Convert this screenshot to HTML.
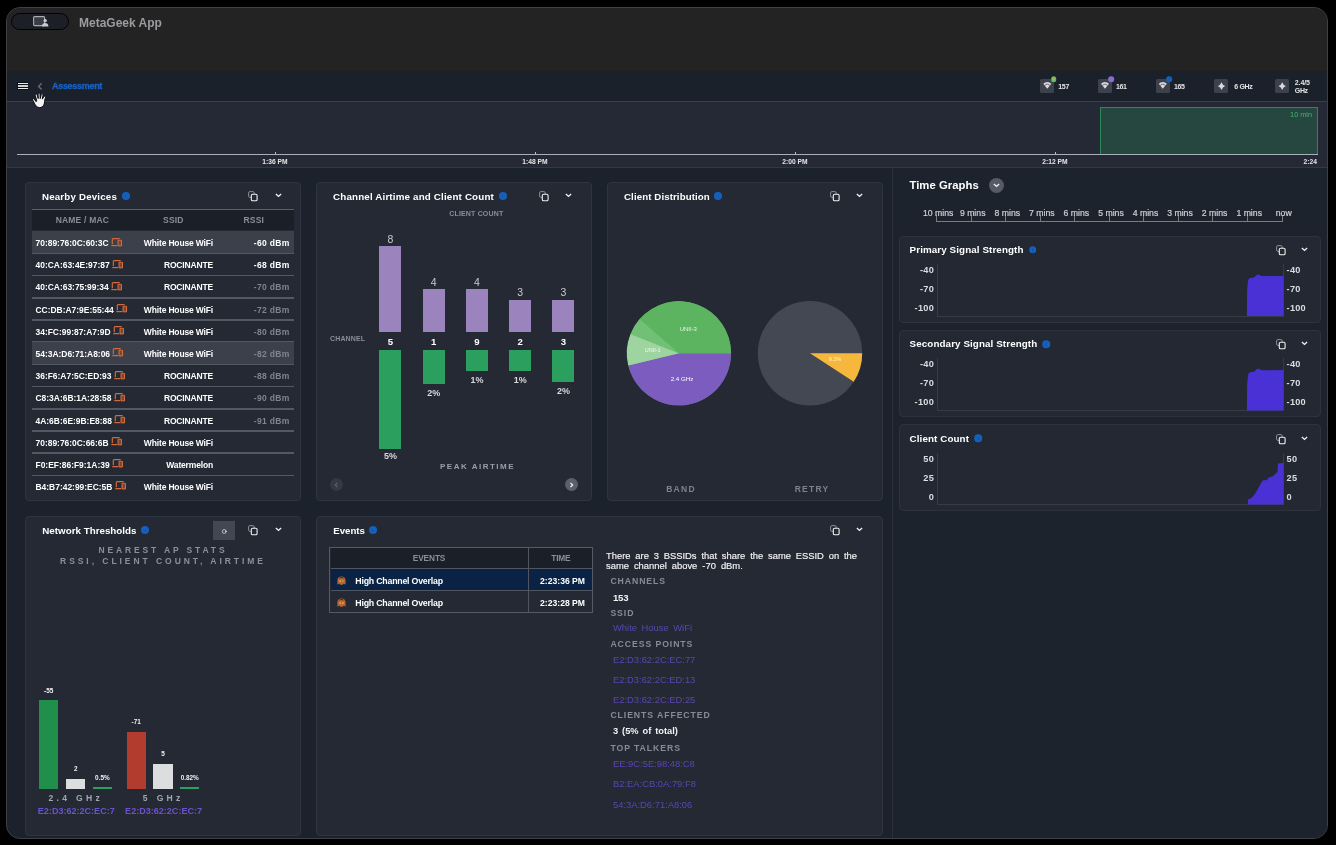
<!DOCTYPE html>
<html>
<head>
<meta charset="utf-8">
<title>MetaGeek App</title>
<style>
*{box-sizing:border-box;margin:0;padding:0}
html,body{width:1336px;height:845px;overflow:hidden;background:#000}
body{position:relative;font-family:"Liberation Sans",sans-serif;color:#fff;-webkit-font-smoothing:antialiased}
.abs{position:absolute}
#win{position:absolute;left:6px;top:7px;width:1322px;height:832px;background:#1c222c;border-radius:14px;overflow:hidden;border:1px solid #3e4046}
/* everything inside #win positioned in page coords via wrapper shifted by -7,-8 (border 1px) */
#pg{position:absolute;left:-7px;top:-8px;width:1336px;height:845px;will-change:transform}
#titlebar{left:0;top:0;width:1336px;height:71px;background:#232323}
#navbar{left:0;top:71px;width:1336px;height:30px;background:#1b212b}
#timeline{left:0;top:101px;width:1336px;height:67px;background:#242935;border-top:1px solid #3a3f49;border-bottom:1px solid #333843}
.t{position:absolute;white-space:nowrap;line-height:1}
.c{transform:translate(-50%,-50%)}
.l{transform:translate(0,-50%)}
.r{transform:translate(-100%,-50%)}
.b{font-weight:bold}
.card{position:absolute;background:#242933;border:1px solid #2f3540;border-radius:4px}
.ttl{font-weight:bold;font-size:10.5px;color:#fff}
.dot{position:absolute;width:8px;height:8px;border-radius:50%;background:#1560bd;transform:translate(-50%,-50%)}
.cdot{position:absolute;border-radius:50%;transform:translate(-50%,-50%)}
.dot::after{content:"";position:absolute;left:50%;top:50%;width:1px;height:3.2px;margin:-1.3px 0 0 -0.5px;background:#1254a8}
.lbl{font-weight:bold;color:#8a8e96}
.rect{position:absolute}
</style>
</head>
<body>
<div id="win"><div id="pg">

<!-- ===== TITLE BAR ===== -->
<div id="titlebar" class="abs"></div>
<div class="abs" style="left:11px;top:13px;width:58px;height:17px;border-radius:9px;background:#1c1f26;border:1.5px solid #020202"></div>
<svg class="abs" style="left:33px;top:16px" width="16" height="11" viewBox="0 0 16 11"><rect x="0.6" y="0.6" width="11" height="9" rx="1" fill="#3a3d44" stroke="#a9abb0" stroke-width="1.1"/><circle cx="12.2" cy="4.6" r="1.7" fill="#c9cbd0"/><path d="M9 10.4c0-2.2 1.4-3.3 3.2-3.3s3.2 1.1 3.2 3.3z" fill="#c9cbd0"/></svg>
<div class="t l b" style="left:79px;top:22.5px;font-size:12px;color:#9b9ca0">MetaGeek App</div>

<!-- ===== NAV BAR ===== -->
<div id="navbar" class="abs"></div>
<div id="timeline" class="abs"></div>
<!-- hamburger -->
<div class="rect" style="left:17.2px;top:81.9px;width:11.2px;height:8.4px;background:#0d1016;border-radius:1px"></div><div class="rect" style="left:17.8px;top:82.6px;width:10.2px;height:1.6px;background:#e9e9ea"></div>
<div class="rect" style="left:17.8px;top:85.2px;width:10.2px;height:1.6px;background:#cfd0d3"></div>
<div class="rect" style="left:17.8px;top:87.9px;width:10.2px;height:1.6px;background:#e9e9ea"></div>
<svg class="abs" style="left:37px;top:82px" width="6" height="9" viewBox="0 0 6 9"><path d="M4.6 1.2L1.6 4.4L4.6 7.6" fill="none" stroke="#646973" stroke-width="1.45"/></svg>
<div class="t l b" style="left:52px;top:86.3px;font-size:9px;letter-spacing:-0.3px;color:#1862c4;-webkit-text-stroke:0.3px #1862c4">Assessment</div>
<!-- hand cursor -->
<svg class="abs" style="left:32.2px;top:91.6px" width="15" height="17" viewBox="0 0 15 17"><path d="M4.7 8.6L3.2 3.2C2.9 1.9 4.7 1.4 5.1 2.7L6.2 6.6L6.1 1.9C6.1 .6 8 .6 8 1.9L8.2 6.6L9.2 2.6C9.5 1.3 11.3 1.7 11 3L10.3 7.1L11.8 4.7C12.5 3.6 14 4.4 13.5 5.6L12.6 8.6C12.7 11.8 11.5 15.6 7.6 15.6C4.9 15.6 3.5 13.6 2.3 11.1L.7 8.1C.1 6.9 1.6 6.2 2.3 7.2L4.1 9.7z" fill="#f1f2f4" stroke="#0d0d0f" stroke-width="1" stroke-linejoin="round"/></svg>
<!-- band chips -->
<div class="rect" style="left:1040px;top:78.6px;width:14.3px;height:14.5px;border-radius:1.5px;background:#3d414c"></div>
<div class="rect" style="left:1097.7px;top:78.6px;width:14.3px;height:14.5px;border-radius:1.5px;background:#3d414c"></div>
<div class="rect" style="left:1155.5px;top:78.6px;width:14.3px;height:14.5px;border-radius:1.5px;background:#3d414c"></div>
<div class="rect" style="left:1214px;top:78.6px;width:14.3px;height:14.5px;border-radius:1.5px;background:#3d414c"></div>
<div class="rect" style="left:1274.7px;top:78.6px;width:14.3px;height:14.5px;border-radius:1.5px;background:#3d414c"></div>
<svg class="abs" style="left:1040px;top:78.5px" width="250" height="15" viewBox="0 0 250 15">
<defs><g id="wf"><path d="M-4-1.7A5.8 5.8 0 0 1 4-1.7L0 3.3z" fill="#d9dade"/><path d="M-2.6-0.1A3.7 3.7 0 0 1 2.6-0.1" fill="none" stroke="#3d414c" stroke-width="0.7"/></g>
<path id="st" d="M0-3.9Q1-1 3.7 0Q1 1 0 3.9Q-1 1-3.7 0Q-1-1 0-3.9z" fill="#d9dade"/></defs>
<use href="#wf" x="7.3" y="6.4"/><use href="#wf" x="65" y="6.4"/><use href="#wf" x="122.8" y="6.4"/>
<use href="#st" x="181.5" y="7.1"/><use href="#st" x="242.2" y="7.1"/>
</svg>
<div class="cdot" style="left:1053.6px;top:79.4px;width:5.6px;height:5.6px;background:#52c26a"></div><div class="cdot" style="left:1053.6px;top:79.4px;width:2.8px;height:2.8px;background:#e6a332"></div>
<div class="cdot" style="left:1111.2px;top:79.2px;width:5.6px;height:5.6px;background:#876bd6"></div>
<div class="cdot" style="left:1169px;top:79.2px;width:5.6px;height:5.6px;background:#1560bd"></div>
<div class="t l b" style="left:1058.3px;top:85.6px;font-size:7px;letter-spacing:-0.35px;color:#e4e4e7">157</div>
<div class="t l b" style="left:1116px;top:85.6px;font-size:7px;letter-spacing:-0.35px;color:#e4e4e7">161</div>
<div class="t l b" style="left:1174px;top:85.6px;font-size:7px;letter-spacing:-0.35px;color:#e4e4e7">165</div>
<div class="t l b" style="left:1234.3px;top:85.6px;font-size:7px;letter-spacing:-0.35px;color:#e4e4e7">6 GHz</div>
<div class="t l b" style="left:1294.8px;top:81.8px;font-size:7px;letter-spacing:-0.1px;color:#e4e4e7">2.4/5</div>
<div class="t l b" style="left:1294.8px;top:89.8px;font-size:7px;letter-spacing:-0.35px;color:#e4e4e7">GHz</div>
<!-- timeline -->
<div class="rect" style="left:1100px;top:107px;width:217.5px;height:47px;background:#25473f;border:1px solid rgba(48,152,94,0.8);border-bottom:none"></div>
<div class="t r" style="left:1312px;top:115.2px;font-size:7.3px;color:#3fb56c">10 min</div>
<div class="rect" style="left:16.5px;top:153.5px;width:1301px;height:1.4px;background:#a9aeb7"></div>
<div class="rect" style="left:275px;top:152px;width:1px;height:2px;background:#b9bcc2"></div>
<div class="rect" style="left:535px;top:152px;width:1px;height:2px;background:#b9bcc2"></div>
<div class="rect" style="left:795px;top:152px;width:1px;height:2px;background:#b9bcc2"></div>
<div class="rect" style="left:1055px;top:152px;width:1px;height:2px;background:#b9bcc2"></div>
<div class="t c b" style="left:275px;top:161.9px;font-size:6.7px;color:#e6e6e8">1:36 PM</div>
<div class="t c b" style="left:535px;top:161.9px;font-size:6.7px;color:#e6e6e8">1:48 PM</div>
<div class="t c b" style="left:795px;top:161.9px;font-size:6.7px;color:#e6e6e8">2:00 PM</div>
<div class="t c b" style="left:1055px;top:161.9px;font-size:6.7px;color:#e6e6e8">2:12 PM</div>
<div class="t r b" style="left:1317px;top:161.9px;font-size:6.7px;color:#e6e6e8">2:24</div>

<svg width="0" height="0" style="position:absolute"><defs>
<g id="cpy"><rect x="0.6" y="0.6" width="5.6" height="5.8" rx="1.3" fill="none" stroke="#8b8f97" stroke-width="1"/><rect x="3.3" y="3.2" width="5.8" height="6.6" rx="1.3" fill="#242933" stroke="#f0f0f0" stroke-width="1.1"/></g>
<path id="chv" d="M0.9 0.9L3.5 3.4L6.1 0.9" fill="none" stroke="#f0f0f0" stroke-width="1.4"/>
<g id="dev"><path d="M1.4 7V1.7c0-.5.3-.8.8-.8h7M0.3 8.3h6.4" fill="none" stroke="#d36a3b" stroke-width="1.25"/><rect x="7.5" y="2.7" width="3.7" height="5.9" rx="0.7" fill="#7a4532" stroke="#d36a3b" stroke-width="1.2"/></g>
</defs></svg>
<!-- ===== NEARBY DEVICES ===== -->
<div class="card" style="left:25px;top:182px;width:276px;height:319px"></div>
<div class="t l ttl" style="left:42px;top:196.7px;font-size:9.7px;letter-spacing:0.2px">Nearby Devices</div>
<div class="dot" style="left:125.5px;top:196px"></div>
<svg class="abs" style="left:248.0px;top:190.9px" width="10" height="11" viewBox="0 0 10 11"><use href="#cpy"/></svg>
<svg class="abs" style="left:274.5px;top:192.9px" width="7" height="5" viewBox="0 0 7 5"><use href="#chv"/></svg>
<div class="rect" style="left:32px;top:208.9px;width:262px;height:21.6px;background:#1a1f28;border-top:1.2px solid #5a5f68"></div>
<div class="t c lbl" style="left:82.4px;top:220.2px;font-size:8.5px;letter-spacing:0.2px">NAME / MAC</div>
<div class="t c lbl" style="left:173.4px;top:220.2px;font-size:8.5px;letter-spacing:0.2px">SSID</div>
<div class="t c lbl" style="left:253.8px;top:220.2px;font-size:8.5px;letter-spacing:0.2px">RSSI</div>
<div class="rect" style="left:32px;top:231.0px;width:262px;height:22.2px;background:#3b404b"></div>
<div class="rect" style="left:32px;top:252.8px;width:262px;height:1.5px;background:#535862"></div>
<div class="t l b" style="left:35.5px;top:243.1px;font-size:8.45px;letter-spacing:0px">70:89:76:0C:60:3C<svg style="position:absolute;left:100%;margin-left:2.4px;top:-1.6px" width="11.3" height="9.4" viewBox="0 0 12 10"><use href="#dev"/></svg></div>
<div class="t r b" style="left:213px;top:243.1px;font-size:8.5px;letter-spacing:-0.16px">White House WiFi</div>
<div class="t r b" style="left:289.5px;top:243.1px;font-size:8.5px;letter-spacing:0.3px;color:#fff">-60 dBm</div>
<div class="rect" style="left:32px;top:274.9px;width:262px;height:1.5px;background:#535862"></div>
<div class="t l b" style="left:35.5px;top:265.3px;font-size:8.45px;letter-spacing:0px">40:CA:63:4E:97:87<svg style="position:absolute;left:100%;margin-left:2.4px;top:-1.6px" width="11.3" height="9.4" viewBox="0 0 12 10"><use href="#dev"/></svg></div>
<div class="t r b" style="left:213px;top:265.3px;font-size:8.5px;letter-spacing:-0.16px">ROCINANTE</div>
<div class="t r b" style="left:289.5px;top:265.3px;font-size:8.5px;letter-spacing:0.3px;color:#fff">-68 dBm</div>
<div class="rect" style="left:32px;top:297.1px;width:262px;height:1.5px;background:#535862"></div>
<div class="t l b" style="left:35.5px;top:287.4px;font-size:8.45px;letter-spacing:0px">40:CA:63:75:99:34<svg style="position:absolute;left:100%;margin-left:2.4px;top:-1.6px" width="11.3" height="9.4" viewBox="0 0 12 10"><use href="#dev"/></svg></div>
<div class="t r b" style="left:213px;top:287.4px;font-size:8.5px;letter-spacing:-0.16px">ROCINANTE</div>
<div class="t r b" style="left:289.5px;top:287.4px;font-size:8.5px;letter-spacing:0.3px;color:#80848d">-70 dBm</div>
<div class="rect" style="left:32px;top:319.3px;width:262px;height:1.5px;background:#535862"></div>
<div class="t l b" style="left:35.5px;top:309.6px;font-size:8.45px;letter-spacing:0px">CC:DB:A7:9E:55:44<svg style="position:absolute;left:100%;margin-left:2.4px;top:-1.6px" width="11.3" height="9.4" viewBox="0 0 12 10"><use href="#dev"/></svg></div>
<div class="t r b" style="left:213px;top:309.6px;font-size:8.5px;letter-spacing:-0.16px">White House WiFi</div>
<div class="t r b" style="left:289.5px;top:309.6px;font-size:8.5px;letter-spacing:0.3px;color:#80848d">-72 dBm</div>
<div class="rect" style="left:32px;top:341.4px;width:262px;height:1.5px;background:#535862"></div>
<div class="t l b" style="left:35.5px;top:331.8px;font-size:8.45px;letter-spacing:0px">34:FC:99:87:A7:9D<svg style="position:absolute;left:100%;margin-left:2.4px;top:-1.6px" width="11.3" height="9.4" viewBox="0 0 12 10"><use href="#dev"/></svg></div>
<div class="t r b" style="left:213px;top:331.8px;font-size:8.5px;letter-spacing:-0.16px">White House WiFi</div>
<div class="t r b" style="left:289.5px;top:331.8px;font-size:8.5px;letter-spacing:0.3px;color:#80848d">-80 dBm</div>
<div class="rect" style="left:32px;top:341.9px;width:262px;height:22.2px;background:#3b404b"></div>
<div class="rect" style="left:32px;top:363.6px;width:262px;height:1.5px;background:#535862"></div>
<div class="t l b" style="left:35.5px;top:353.9px;font-size:8.45px;letter-spacing:0px">54:3A:D6:71:A8:06<svg style="position:absolute;left:100%;margin-left:2.4px;top:-1.6px" width="11.3" height="9.4" viewBox="0 0 12 10"><use href="#dev"/></svg></div>
<div class="t r b" style="left:213px;top:353.9px;font-size:8.5px;letter-spacing:-0.16px">White House WiFi</div>
<div class="t r b" style="left:289.5px;top:353.9px;font-size:8.5px;letter-spacing:0.3px;color:#80848d">-82 dBm</div>
<div class="rect" style="left:32px;top:385.8px;width:262px;height:1.5px;background:#535862"></div>
<div class="t l b" style="left:35.5px;top:376.1px;font-size:8.45px;letter-spacing:0px">36:F6:A7:5C:ED:93<svg style="position:absolute;left:100%;margin-left:2.4px;top:-1.6px" width="11.3" height="9.4" viewBox="0 0 12 10"><use href="#dev"/></svg></div>
<div class="t r b" style="left:213px;top:376.1px;font-size:8.5px;letter-spacing:-0.16px">ROCINANTE</div>
<div class="t r b" style="left:289.5px;top:376.1px;font-size:8.5px;letter-spacing:0.3px;color:#80848d">-88 dBm</div>
<div class="rect" style="left:32px;top:408.0px;width:262px;height:1.5px;background:#535862"></div>
<div class="t l b" style="left:35.5px;top:398.3px;font-size:8.45px;letter-spacing:0px">C8:3A:6B:1A:28:58<svg style="position:absolute;left:100%;margin-left:2.4px;top:-1.6px" width="11.3" height="9.4" viewBox="0 0 12 10"><use href="#dev"/></svg></div>
<div class="t r b" style="left:213px;top:398.3px;font-size:8.5px;letter-spacing:-0.16px">ROCINANTE</div>
<div class="t r b" style="left:289.5px;top:398.3px;font-size:8.5px;letter-spacing:0.3px;color:#80848d">-90 dBm</div>
<div class="rect" style="left:32px;top:430.1px;width:262px;height:1.5px;background:#535862"></div>
<div class="t l b" style="left:35.5px;top:420.5px;font-size:8.45px;letter-spacing:0px">4A:6B:6E:9B:E8:88<svg style="position:absolute;left:100%;margin-left:2.4px;top:-1.6px" width="11.3" height="9.4" viewBox="0 0 12 10"><use href="#dev"/></svg></div>
<div class="t r b" style="left:213px;top:420.5px;font-size:8.5px;letter-spacing:-0.16px">ROCINANTE</div>
<div class="t r b" style="left:289.5px;top:420.5px;font-size:8.5px;letter-spacing:0.3px;color:#80848d">-91 dBm</div>
<div class="rect" style="left:32px;top:452.3px;width:262px;height:1.5px;background:#535862"></div>
<div class="t l b" style="left:35.5px;top:442.6px;font-size:8.45px;letter-spacing:0px">70:89:76:0C:66:6B<svg style="position:absolute;left:100%;margin-left:2.4px;top:-1.6px" width="11.3" height="9.4" viewBox="0 0 12 10"><use href="#dev"/></svg></div>
<div class="t r b" style="left:213px;top:442.6px;font-size:8.5px;letter-spacing:-0.16px">White House WiFi</div>
<div class="rect" style="left:32px;top:474.5px;width:262px;height:1.5px;background:#535862"></div>
<div class="t l b" style="left:35.5px;top:464.8px;font-size:8.45px;letter-spacing:0px">F0:EF:86:F9:1A:39<svg style="position:absolute;left:100%;margin-left:2.4px;top:-1.6px" width="11.3" height="9.4" viewBox="0 0 12 10"><use href="#dev"/></svg></div>
<div class="t r b" style="left:213px;top:464.8px;font-size:8.5px;letter-spacing:-0.16px">Watermelon</div>
<div class="t l b" style="left:35.5px;top:487.0px;font-size:8.45px;letter-spacing:0px">B4:B7:42:99:EC:5B<svg style="position:absolute;left:100%;margin-left:2.4px;top:-1.6px" width="11.3" height="9.4" viewBox="0 0 12 10"><use href="#dev"/></svg></div>
<div class="t r b" style="left:213px;top:487.0px;font-size:8.5px;letter-spacing:-0.16px">White House WiFi</div>
<!-- ===== CHANNEL AIRTIME ===== -->
<div class="card" style="left:316px;top:182px;width:276px;height:319px"></div>
<div class="t l ttl" style="left:333px;top:196.7px;font-size:9.8px;letter-spacing:0.16px">Channel Airtime and Client Count</div>
<div class="dot" style="left:502.5px;top:196px"></div>
<svg class="abs" style="left:539.0px;top:190.9px" width="10" height="11" viewBox="0 0 10 11"><use href="#cpy"/></svg>
<svg class="abs" style="left:565.2px;top:192.9px" width="7" height="5" viewBox="0 0 7 5"><use href="#chv"/></svg>
<div class="t c lbl" style="left:476.3px;top:213.4px;font-size:7px;letter-spacing:0.17px">CLIENT COUNT</div>
<div class="t l lbl" style="left:330px;top:337.7px;font-size:7px;letter-spacing:0.15px">CHANNEL</div>
<div class="rect" style="left:379.3px;top:246.3px;width:22.2px;height:85.5px;background:#9b83be"></div>
<div class="t c" style="left:390.4px;top:238.9px;font-size:10.5px;color:#c9cacd">8</div>
<div class="t c b" style="left:390.4px;top:341.6px;font-size:9.6px;color:#fff">5</div>
<div class="rect" style="left:379.3px;top:349.7px;width:22.2px;height:99.1px;background:#2b9f5e"></div>
<div class="t c b" style="left:390.4px;top:456.2px;font-size:9px;color:#d6d7da">5%</div>
<div class="rect" style="left:422.6px;top:289.3px;width:22.2px;height:42.5px;background:#9b83be"></div>
<div class="t c" style="left:433.7px;top:281.9px;font-size:10.5px;color:#c9cacd">4</div>
<div class="t c b" style="left:433.7px;top:341.6px;font-size:9.6px;color:#fff">1</div>
<div class="rect" style="left:422.6px;top:349.7px;width:22.2px;height:34.7px;background:#2b9f5e"></div>
<div class="t c b" style="left:433.7px;top:392.7px;font-size:9px;color:#d6d7da">2%</div>
<div class="rect" style="left:465.9px;top:289.3px;width:22.2px;height:42.5px;background:#9b83be"></div>
<div class="t c" style="left:477.0px;top:281.9px;font-size:10.5px;color:#c9cacd">4</div>
<div class="t c b" style="left:477.0px;top:341.6px;font-size:9.6px;color:#fff">9</div>
<div class="rect" style="left:465.9px;top:349.7px;width:22.2px;height:21.7px;background:#2b9f5e"></div>
<div class="t c b" style="left:477.0px;top:379.5px;font-size:9px;color:#d6d7da">1%</div>
<div class="rect" style="left:509.1px;top:299.8px;width:22.2px;height:32.0px;background:#9b83be"></div>
<div class="t c" style="left:520.2px;top:292.4px;font-size:10.5px;color:#c9cacd">3</div>
<div class="t c b" style="left:520.2px;top:341.6px;font-size:9.6px;color:#fff">2</div>
<div class="rect" style="left:509.1px;top:349.7px;width:22.2px;height:21.7px;background:#2b9f5e"></div>
<div class="t c b" style="left:520.2px;top:379.5px;font-size:9px;color:#d6d7da">1%</div>
<div class="rect" style="left:552.3px;top:299.8px;width:22.2px;height:32.0px;background:#9b83be"></div>
<div class="t c" style="left:563.4px;top:292.4px;font-size:10.5px;color:#c9cacd">3</div>
<div class="t c b" style="left:563.4px;top:341.6px;font-size:9.6px;color:#fff">3</div>
<div class="rect" style="left:552.3px;top:349.7px;width:22.2px;height:32.8px;background:#2b9f5e"></div>
<div class="t c b" style="left:563.4px;top:390.6px;font-size:9px;color:#d6d7da">2%</div>
<div class="t c lbl" style="left:477.5px;top:466.8px;font-size:8px;letter-spacing:1.5px;color:#9a9ea6">PEAK AIRTIME</div>
<div class="rect" style="left:330px;top:478px;width:13px;height:13px;border-radius:50%;background:#343944"></div>
<svg class="abs" style="left:334px;top:481.5px" width="5" height="6" viewBox="0 0 5 6"><path d="M3.4 0.9L1.3 3L3.4 5.1" fill="none" stroke="#5d626c" stroke-width="1.2"/></svg>
<div class="rect" style="left:564.8px;top:478px;width:13px;height:13px;border-radius:50%;background:#5b606b"></div>
<svg class="abs" style="left:569px;top:481.5px" width="5" height="6" viewBox="0 0 5 6"><path d="M1.5 0.9L3.6 3L1.5 5.1" fill="none" stroke="#f2f2f2" stroke-width="1.3"/></svg>
<!-- ===== CLIENT DISTRIBUTION ===== -->
<div class="card" style="left:607px;top:182px;width:276px;height:319px"></div>
<div class="t l ttl" style="left:624px;top:196.7px;font-size:9.7px;letter-spacing:0.1px">Client Distribution</div>
<div class="dot" style="left:718px;top:196px"></div>
<svg class="abs" style="left:830.0px;top:190.9px" width="10" height="11" viewBox="0 0 10 11"><use href="#cpy"/></svg>
<svg class="abs" style="left:856.2px;top:192.9px" width="7" height="5" viewBox="0 0 7 5"><use href="#chv"/></svg>
<svg class="abs" style="left:607px;top:282px" width="276" height="140" viewBox="607 282 276 140"><circle cx="679" cy="353.3" r="51.8" fill="#6ab96e"/><path d="M679 353.3L731.20 353.30A52.2 52.2 0 0 1 628.22 365.40z" fill="#7c5cbf"/><path d="M679 353.3L628.22 365.40A52.2 52.2 0 0 1 630.50 334.00z" fill="#9ed4a0"/><path d="M679 353.3L630.50 334.00A52.2 52.2 0 0 1 639.54 319.12z" fill="#72c076"/><path d="M679 353.3L639.54 319.12A52.2 52.2 0 0 1 731.20 353.30z" fill="#5cb460"/><circle cx="810" cy="353.3" r="52.2" fill="#444853"/><path d="M810 353.3L862.20 353.30A52.2 52.2 0 0 1 853.73 381.81z" fill="#f6b83c"/></svg>
<div class="t c" style="left:688.3px;top:328.5px;font-size:6px;color:#e6f3e6">UNII-3</div>
<div class="t c" style="left:652.7px;top:350.5px;font-size:5.5px;color:#f0f8f0">UNII-1</div>
<div class="t c" style="left:682px;top:379px;font-size:6.2px;color:#fff">2.4 GHz</div>
<div class="t c" style="left:835px;top:360px;font-size:5.5px;color:#fff3d8">9.2%</div>
<div class="t c lbl" style="left:681px;top:489px;font-size:8.5px;letter-spacing:1.25px;color:#7e828b">BAND</div>
<div class="t c lbl" style="left:812px;top:489px;font-size:8.5px;letter-spacing:1.25px;color:#7e828b">RETRY</div>
<!-- ===== TIME GRAPHS ===== -->
<div class="rect" style="left:892px;top:168px;width:1px;height:672px;background:#2a303a"></div>
<div class="rect" style="left:893px;top:168px;width:436px;height:672px;background:#1d232d"></div>
<div class="t l b" style="left:909.4px;top:185.8px;font-size:11.3px;letter-spacing:0.05px">Time Graphs</div>
<div class="rect" style="left:989px;top:177.5px;width:15px;height:15px;border-radius:50%;background:#555a64"></div>
<svg class="abs" style="left:993px;top:183.3px" width="7" height="5" viewBox="0 0 7 5"><use href="#chv"/></svg>
<div class="rect" style="left:936px;top:221px;width:346.5px;height:1px;background:#777c85"></div>
<div class="rect" style="left:936.0px;top:215.3px;width:1px;height:6.2px;background:#777c85"></div>
<div class="t c" style="left:938.2px;top:212.8px;font-size:8.7px;-webkit-text-stroke:0.2px #d0d1d4;color:#d0d1d4">10 mins</div>
<div class="rect" style="left:970.5px;top:215.3px;width:1px;height:6.2px;background:#777c85"></div>
<div class="t c" style="left:972.7px;top:212.8px;font-size:8.7px;-webkit-text-stroke:0.2px #d0d1d4;color:#d0d1d4">9 mins</div>
<div class="rect" style="left:1005.1px;top:215.3px;width:1px;height:6.2px;background:#777c85"></div>
<div class="t c" style="left:1007.3px;top:212.8px;font-size:8.7px;-webkit-text-stroke:0.2px #d0d1d4;color:#d0d1d4">8 mins</div>
<div class="rect" style="left:1039.7px;top:215.3px;width:1px;height:6.2px;background:#777c85"></div>
<div class="t c" style="left:1041.9px;top:212.8px;font-size:8.7px;-webkit-text-stroke:0.2px #d0d1d4;color:#d0d1d4">7 mins</div>
<div class="rect" style="left:1074.2px;top:215.3px;width:1px;height:6.2px;background:#777c85"></div>
<div class="t c" style="left:1076.4px;top:212.8px;font-size:8.7px;-webkit-text-stroke:0.2px #d0d1d4;color:#d0d1d4">6 mins</div>
<div class="rect" style="left:1108.8px;top:215.3px;width:1px;height:6.2px;background:#777c85"></div>
<div class="t c" style="left:1111.0px;top:212.8px;font-size:8.7px;-webkit-text-stroke:0.2px #d0d1d4;color:#d0d1d4">5 mins</div>
<div class="rect" style="left:1143.3px;top:215.3px;width:1px;height:6.2px;background:#777c85"></div>
<div class="t c" style="left:1145.5px;top:212.8px;font-size:8.7px;-webkit-text-stroke:0.2px #d0d1d4;color:#d0d1d4">4 mins</div>
<div class="rect" style="left:1177.8px;top:215.3px;width:1px;height:6.2px;background:#777c85"></div>
<div class="t c" style="left:1180.0px;top:212.8px;font-size:8.7px;-webkit-text-stroke:0.2px #d0d1d4;color:#d0d1d4">3 mins</div>
<div class="rect" style="left:1212.4px;top:215.3px;width:1px;height:6.2px;background:#777c85"></div>
<div class="t c" style="left:1214.6px;top:212.8px;font-size:8.7px;-webkit-text-stroke:0.2px #d0d1d4;color:#d0d1d4">2 mins</div>
<div class="rect" style="left:1247.0px;top:215.3px;width:1px;height:6.2px;background:#777c85"></div>
<div class="t c" style="left:1249.2px;top:212.8px;font-size:8.7px;-webkit-text-stroke:0.2px #d0d1d4;color:#d0d1d4">1 mins</div>
<div class="rect" style="left:1281.5px;top:215.3px;width:1px;height:6.2px;background:#777c85"></div>
<div class="t c" style="left:1283.7px;top:212.8px;font-size:8.7px;-webkit-text-stroke:0.2px #d0d1d4;color:#d0d1d4">now</div>
<div class="card" style="left:898.9px;top:235.70px;width:422.4px;height:87px;background:#232832;border-color:#2d333d"></div>
<div class="t l ttl" style="left:909.6px;top:250.10px;font-size:9.8px;letter-spacing:0.1px">Primary Signal Strength</div>
<div class="dot" style="left:1032.5px;top:249.90px;width:7.6px;height:7.6px"></div>
<svg class="abs" style="left:1275.5px;top:245.10px" width="10" height="11" viewBox="0 0 10 11"><use href="#cpy"/></svg>
<svg class="abs" style="left:1301px;top:247.20px" width="7" height="5" viewBox="0 0 7 5"><use href="#chv"/></svg>
<div class="rect" style="left:936.5px;top:264.00px;width:347.5px;height:52.60px;border:1px solid #363b46;border-top:none"></div>
<div class="t r b" style="left:934px;top:271.10px;font-size:9.2px;letter-spacing:0.25px;color:#dcdde0">-40</div>
<div class="t l b" style="left:1286.6px;top:271.10px;font-size:9.2px;letter-spacing:0.25px;color:#dcdde0">-40</div>
<div class="t r b" style="left:934px;top:290.05px;font-size:9.2px;letter-spacing:0.25px;color:#dcdde0">-70</div>
<div class="t l b" style="left:1286.6px;top:290.05px;font-size:9.2px;letter-spacing:0.25px;color:#dcdde0">-70</div>
<div class="t r b" style="left:934px;top:309.00px;font-size:9.2px;letter-spacing:0.25px;color:#dcdde0">-100</div>
<div class="t l b" style="left:1286.6px;top:309.00px;font-size:9.2px;letter-spacing:0.25px;color:#dcdde0">-100</div>
<svg class="abs" style="left:0;top:0;pointer-events:none" width="1336" height="845" viewBox="0 0 1336 845"><polygon points="1246.9,316.1 1247.1,290.2 1248.0,281.2 1249.0,278.5 1250.0,278.0 1254.0,277.6 1256.3,275.4 1258.3,274.3 1260.0,275.4 1262.0,276.1 1283.6,275.9 1283.6,316.1" fill="#4a31d6"/></svg>
<div class="card" style="left:898.9px;top:329.95px;width:422.4px;height:87px;background:#232832;border-color:#2d333d"></div>
<div class="t l ttl" style="left:909.6px;top:344.35px;font-size:9.8px;letter-spacing:0.1px">Secondary Signal Strength</div>
<div class="dot" style="left:1046px;top:344.15px;width:7.6px;height:7.6px"></div>
<svg class="abs" style="left:1275.5px;top:339.35px" width="10" height="11" viewBox="0 0 10 11"><use href="#cpy"/></svg>
<svg class="abs" style="left:1301px;top:341.45px" width="7" height="5" viewBox="0 0 7 5"><use href="#chv"/></svg>
<div class="rect" style="left:936.5px;top:358.25px;width:347.5px;height:52.60px;border:1px solid #363b46;border-top:none"></div>
<div class="t r b" style="left:934px;top:365.35px;font-size:9.2px;letter-spacing:0.25px;color:#dcdde0">-40</div>
<div class="t l b" style="left:1286.6px;top:365.35px;font-size:9.2px;letter-spacing:0.25px;color:#dcdde0">-40</div>
<div class="t r b" style="left:934px;top:384.30px;font-size:9.2px;letter-spacing:0.25px;color:#dcdde0">-70</div>
<div class="t l b" style="left:1286.6px;top:384.30px;font-size:9.2px;letter-spacing:0.25px;color:#dcdde0">-70</div>
<div class="t r b" style="left:934px;top:403.25px;font-size:9.2px;letter-spacing:0.25px;color:#dcdde0">-100</div>
<div class="t l b" style="left:1286.6px;top:403.25px;font-size:9.2px;letter-spacing:0.25px;color:#dcdde0">-100</div>
<svg class="abs" style="left:0;top:0;pointer-events:none" width="1336" height="845" viewBox="0 0 1336 845"><polygon points="1246.9,410.4 1247.1,384.4 1248.0,375.4 1249.0,372.8 1250.0,372.2 1254.0,371.8 1256.3,369.6 1258.3,368.6 1260.0,369.6 1262.0,370.3 1283.6,370.1 1283.6,410.4" fill="#4a31d6"/></svg>
<div class="card" style="left:898.9px;top:424.20px;width:422.4px;height:87px;background:#232832;border-color:#2d333d"></div>
<div class="t l ttl" style="left:909.6px;top:438.60px;font-size:9.8px;letter-spacing:0.1px">Client Count</div>
<div class="dot" style="left:978.3px;top:438.40px;width:7.6px;height:7.6px"></div>
<svg class="abs" style="left:1275.5px;top:433.60px" width="10" height="11" viewBox="0 0 10 11"><use href="#cpy"/></svg>
<svg class="abs" style="left:1301px;top:435.70px" width="7" height="5" viewBox="0 0 7 5"><use href="#chv"/></svg>
<div class="rect" style="left:936.5px;top:452.50px;width:347.5px;height:52.60px;border:1px solid #363b46;border-top:none"></div>
<div class="t r b" style="left:934px;top:459.60px;font-size:9.2px;letter-spacing:0.25px;color:#dcdde0">50</div>
<div class="t l b" style="left:1286.6px;top:459.60px;font-size:9.2px;letter-spacing:0.25px;color:#dcdde0">50</div>
<div class="t r b" style="left:934px;top:478.55px;font-size:9.2px;letter-spacing:0.25px;color:#dcdde0">25</div>
<div class="t l b" style="left:1286.6px;top:478.55px;font-size:9.2px;letter-spacing:0.25px;color:#dcdde0">25</div>
<div class="t r b" style="left:934px;top:497.50px;font-size:9.2px;letter-spacing:0.25px;color:#dcdde0">0</div>
<div class="t l b" style="left:1286.6px;top:497.50px;font-size:9.2px;letter-spacing:0.25px;color:#dcdde0">0</div>
<svg class="abs" style="left:0;top:0;pointer-events:none" width="1336" height="845" viewBox="0 0 1336 845"><polygon points="1247.9,504.6 1247.9,499.6 1251.4,498.0 1255.1,493.8 1262.6,480.5 1266.9,479.9 1268.4,477.8 1272.7,476.2 1277.5,471.9 1278.0,463.4 1283.6,462.9 1283.6,504.6" fill="#4a31d6"/></svg>
<!-- ===== NETWORK THRESHOLDS ===== -->
<div class="card" style="left:25px;top:516px;width:276px;height:320px"></div>
<div class="t l ttl" style="left:42.3px;top:530.5px;font-size:9.8px">Network Thresholds</div>
<div class="dot" style="left:145px;top:530.3px"></div>
<div class="rect" style="left:213px;top:520.5px;width:22.3px;height:19.5px;background:#424752"></div>
<svg class="abs" style="left:220.5px;top:527.5px" width="7" height="7" viewBox="0 0 7 7"><circle cx="3.2" cy="3.5" r="1.9" fill="none" stroke="#c9cbd0" stroke-width="0.9"/><path d="M4.2 2.3L6.2 3.5L4.2 4.7z" fill="#c9cbd0"/></svg>
<svg class="abs" style="left:248.3px;top:525.1px" width="10" height="11" viewBox="0 0 10 11"><use href="#cpy"/></svg>
<svg class="abs" style="left:274.5px;top:527.1px" width="7" height="5" viewBox="0 0 7 5"><use href="#chv"/></svg>
<div class="t c lbl" style="left:163px;top:549.5px;font-size:8.5px;letter-spacing:2.85px;color:#8d9099">NEAREST AP STATS</div>
<div class="t c lbl" style="left:163px;top:561.1px;font-size:8.5px;letter-spacing:2.95px;color:#8d9099">RSSI, CLIENT COUNT, AIRTIME</div>
<div class="rect" style="left:39.3px;top:699.8px;width:18.9px;height:89.5px;background:#1f8f4b"></div>
<div class="rect" style="left:66.1px;top:778.7px;width:19.2px;height:10.6px;background:#dcdddf"></div>
<div class="rect" style="left:93.2px;top:787px;width:18.8px;height:1.5px;background:#2b9f5e"></div>
<div class="rect" style="left:126.6px;top:731.8px;width:19.2px;height:57.5px;background:#b23c2e"></div>
<div class="rect" style="left:153.3px;top:764px;width:19.4px;height:25.3px;background:#dcdddf"></div>
<div class="rect" style="left:180.3px;top:787px;width:19.0px;height:1.5px;background:#2b9f5e"></div>
<div class="t c b" style="left:48.7px;top:690.6px;font-size:6.4px;color:#f0f0f2">-55</div>
<div class="t c b" style="left:75.7px;top:769.4px;font-size:6.4px;color:#f0f0f2">2</div>
<div class="t c b" style="left:102.4px;top:777.9px;font-size:6.4px;color:#f0f0f2">0.5%</div>
<div class="t c b" style="left:136.2px;top:722.1px;font-size:6.4px;color:#f0f0f2">-71</div>
<div class="t c b" style="left:163px;top:754.2px;font-size:6.4px;color:#f0f0f2">5</div>
<div class="t c b" style="left:189.7px;top:777.5px;font-size:6.4px;color:#f0f0f2">0.82%</div>
<div class="t c b" style="left:75.8px;top:798.2px;font-size:8.6px;letter-spacing:3.3px;color:#a3a7ae">2.4 GHz</div>
<div class="t c b" style="left:163.3px;top:798.2px;font-size:8.6px;letter-spacing:3.3px;color:#a3a7ae">5 GHz</div>
<div class="t l b" style="left:37.8px;top:812.1px;font-size:9.05px;color:#6c52cc">E2:D3:62:2C:EC:7</div>
<div class="t l b" style="left:125.1px;top:812.1px;font-size:9.05px;color:#6c52cc">E2:D3:62:2C:EC:7</div>
<!-- ===== EVENTS ===== -->
<div class="card" style="left:316px;top:516px;width:567px;height:320px"></div>
<div class="t l ttl" style="left:333.2px;top:530.5px;font-size:9.7px">Events</div>
<div class="dot" style="left:372.8px;top:530.3px"></div>
<svg class="abs" style="left:829.7px;top:525.1px" width="10" height="11" viewBox="0 0 10 11"><use href="#cpy"/></svg>
<svg class="abs" style="left:855.7px;top:527.1px" width="7" height="5" viewBox="0 0 7 5"><use href="#chv"/></svg>
<div class="rect" style="left:329.3px;top:546.8px;width:263.9px;height:66.5px;border:1.4px solid #555a64"></div>
<div class="rect" style="left:330.5px;top:548px;width:261.5px;height:20px;background:#1a1f28"></div>
<div class="rect" style="left:330.5px;top:568.5px;width:261.5px;height:22px;background:#0a2345"></div>
<div class="rect" style="left:330.5px;top:568px;width:261.5px;height:1px;background:#50555f"></div>
<div class="rect" style="left:330.5px;top:590.3px;width:261.5px;height:1px;background:#50555f"></div>
<div class="rect" style="left:528px;top:548px;width:1px;height:64px;background:#50555f"></div>
<div class="t c lbl" style="left:429px;top:558.2px;font-size:8.3px;letter-spacing:-0.1px">EVENTS</div>
<div class="t c lbl" style="left:560.8px;top:558.2px;font-size:8.3px;letter-spacing:-0.2px">TIME</div>
<svg class="abs" style="left:337px;top:575.6px" width="9" height="10" viewBox="0 0 9 10"><path d="M0.4 8.8V4.6C0.4 1.9 2.2 0.5 4.5 0.5S8.6 1.9 8.6 4.6V8.8L6.9 7.4L5.7 8.8H3.3L2.1 7.4z" fill="#b8653a"/><path d="M1.6 2.6C2.3 1.5 3.3 1 4.5 1S6.7 1.5 7.4 2.6C6.4 2.2 5.5 2 4.5 2S2.6 2.2 1.6 2.6z" fill="#4a2e22"/><circle cx="3.2" cy="5" r="0.85" fill="#f0c030"/><circle cx="5.9" cy="5" r="0.85" fill="#5fd06a"/></svg>
<div class="t l b" style="left:355.3px;top:580.6px;font-size:8.8px;letter-spacing:-0.22px">High Channel Overlap</div>
<div class="t r b" style="left:585px;top:580.6px;font-size:8.6px">2:23:36 PM</div>
<svg class="abs" style="left:337px;top:597.6px" width="9" height="10" viewBox="0 0 9 10"><path d="M0.4 8.8V4.6C0.4 1.9 2.2 0.5 4.5 0.5S8.6 1.9 8.6 4.6V8.8L6.9 7.4L5.7 8.8H3.3L2.1 7.4z" fill="#b8653a"/><path d="M1.6 2.6C2.3 1.5 3.3 1 4.5 1S6.7 1.5 7.4 2.6C6.4 2.2 5.5 2 4.5 2S2.6 2.2 1.6 2.6z" fill="#4a2e22"/><circle cx="3.2" cy="5" r="0.85" fill="#f0c030"/><circle cx="5.9" cy="5" r="0.85" fill="#f0c030"/></svg>
<div class="t l b" style="left:355.3px;top:602.6px;font-size:8.8px;letter-spacing:-0.22px">High Channel Overlap</div>
<div class="t r b" style="left:585px;top:602.6px;font-size:8.6px">2:23:28 PM</div>
<div class="abs" style="left:606px;top:550.8px;width:251px;font-size:9.4px;line-height:10px;color:#f4f4f6;-webkit-text-stroke:0.15px #f4f4f6;word-spacing:1.5px;text-align:justify;text-align-last:justify;white-space:nowrap">There are 3 BSSIDs that share the same ESSID on the</div><div class="abs" style="left:606px;top:560.6px;font-size:9.4px;line-height:10px;color:#f4f4f6;-webkit-text-stroke:0.15px #f4f4f6;word-spacing:2.4px;white-space:nowrap">same channel above -70 dBm.</div>
<div class="t l lbl" style="left:610.4px;top:581.2px;font-size:8.7px;letter-spacing:0.92px;color:#878b94">CHANNELS</div>
<div class="t l b" style="left:613px;top:597.9px;font-size:9.6px;letter-spacing:-0.25px;color:#f2f2f4">153</div>
<div class="t l lbl" style="left:610.4px;top:612.5px;font-size:8.7px;letter-spacing:0.92px;color:#878b94">SSID</div>
<div class="t l" style="left:613px;top:628.3px;font-size:9.4px;word-spacing:2px;color:#5a46b4">White House WiFi</div>
<div class="t l lbl" style="left:610.4px;top:643.5px;font-size:8.7px;letter-spacing:0.92px;color:#878b94">ACCESS POINTS</div>
<div class="t l" style="left:613px;top:659.7px;font-size:9.4px;word-spacing:2px;color:#5a46b4">E2:D3:62:2C:EC:77</div>
<div class="t l" style="left:613px;top:680px;font-size:9.4px;word-spacing:2px;color:#5a46b4">E2:D3:62:2C:ED:13</div>
<div class="t l" style="left:613px;top:699.9px;font-size:9.4px;word-spacing:2px;color:#5a46b4">E2:D3:62:2C:ED:25</div>
<div class="t l lbl" style="left:610.4px;top:714.6px;font-size:8.7px;letter-spacing:0.92px;color:#878b94">CLIENTS AFFECTED</div>
<div class="t l b" style="left:613px;top:731.7px;font-size:9.3px;word-spacing:1.3px;color:#f2f2f4">3 (5% of total)</div>
<div class="t l lbl" style="left:610.4px;top:747.7px;font-size:8.7px;letter-spacing:0.92px;color:#878b94">TOP TALKERS</div>
<div class="t l" style="left:613px;top:763.9px;font-size:9.4px;word-spacing:2px;color:#5a46b4">EE:9C:5E:98:48:C8</div>
<div class="t l" style="left:613px;top:784.3px;font-size:9.4px;word-spacing:2px;color:#5a46b4">B2:EA:CB:0A:79:F8</div>
<div class="t l" style="left:613px;top:804.6px;font-size:9.4px;word-spacing:2px;color:#5a46b4">54:3A:D6:71:A8:06</div>
<!--END-->

</div></div>
</body>
</html>
